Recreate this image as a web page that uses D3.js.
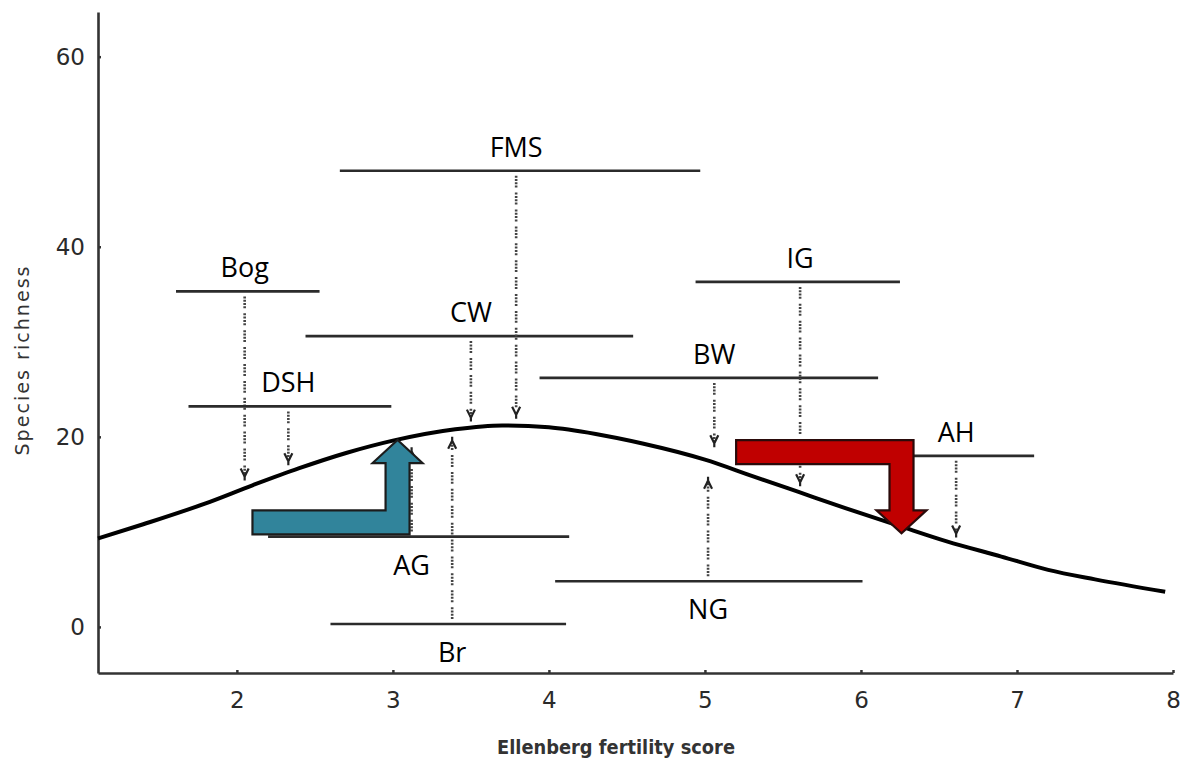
<!DOCTYPE html>
<html>
<head>
<meta charset="utf-8">
<script src="https://cdn.jsdelivr.net/npm/d3@7"></script>
<style>
  html, body { margin: 0; padding: 0; background: #fff; }
  svg { display: block; }
</style>
</head>
<body>
<svg id="chart" width="1181" height="758"></svg>
<script>
// ---------------- data ----------------
const xTicks = [2, 3, 4, 5, 6, 7, 8];
const yTicks = [0, 20, 40, 60];
const xTitle = "Ellenberg fertility score";
const yTitle = "Species richness";

// fitted species-richness curve
const curveX = [1.11, 1.4, 1.8, 2.1, 2.4, 2.7, 3.0, 3.4, 3.7, 4.0, 4.3, 4.6, 5.0, 5.3, 5.6, 5.9, 6.25, 6.55, 6.9, 7.2, 7.5, 7.95];
const curveY = [9.3, 10.8, 13.0, 14.9, 16.7, 18.3, 19.6, 20.8, 21.2, 21.0, 20.3, 19.3, 17.6, 15.9, 14.2, 12.5, 10.6, 9.0, 7.4, 6.0, 5.0, 3.7];

// habitats: fertility range, mean richness level, mean fertility, arrow end on curve
const habitats  = ["Bog", "DSH", "CW", "FMS", "BW", "IG", "AH", "AG", "Br", "NG"];
const rangeLow  = [1.61, 1.69, 2.44, 2.66, 3.94, 4.94, 6.11, 2.20, 2.60, 4.04];
const rangeHigh = [2.53, 2.99, 4.54, 4.97, 6.11, 6.25, 7.11, 4.13, 4.11, 6.01];
const levelY    = [35.3, 23.2, 30.6, 48.0, 26.2, 36.3, 18.0, 9.5, 0.3, 4.8];
const meanX     = [2.05, 2.33, 3.50, 3.79, 5.06, 5.61, 6.61, 3.12, 3.38, 5.02];
const arrowEndY = [15.4, 17.0, 21.6, 21.9, 18.9, 14.8, 9.4, 18.9, 20.0, 15.8];

// block arrows (data coordinates): horizontal start, bend/shaft x, tip level
const blueArrowStart = [2.10, 11.0];
const blueArrowTip   = [3.03, 19.66];
const redArrowStart  = [5.20, 18.4];
const redArrowTip    = [6.26, 9.85];

// ---------------- layout ----------------
const svg = d3.select("#chart");
const x = d3.scaleLinear().domain([1.11, 8]).range([98, 1173]);
const y = d3.scaleLinear().domain([-4.85, 64.7]).range([673, 12]);

const axisColor = "#333";
const tickFont = "DejaVu Sans, Verdana, sans-serif";

// axes
const gx = svg.append("g").attr("transform", `translate(0,${y.range()[0]})`)
  .call(d3.axisBottom(x).tickValues(xTicks).tickSize(-3).tickSizeOuter(0).tickPadding(19).tickFormat(d3.format("d")));
const gy = svg.append("g").attr("transform", `translate(${x.range()[0]},0)`)
  .call(d3.axisLeft(y).tickValues(yTicks).tickSize(-3).tickSizeOuter(0).tickPadding(13).tickFormat(d3.format("d")));
[gx, gy].forEach(g => {
  g.select(".domain").attr("stroke", axisColor).attr("stroke-width", 2.6);
  g.selectAll(".tick line").attr("stroke", axisColor).attr("stroke-width", 2.5);
  g.selectAll(".tick text").attr("fill", "#2a2a2a").style("font-family", tickFont).style("font-size", "23px");
});

// axis titles
svg.append("text")
  .attr("x", 616).attr("y", 754)
  .attr("text-anchor", "middle")
  .attr("textLength", 238).attr("lengthAdjust", "spacingAndGlyphs")
  .style("font-family", tickFont).style("font-size", "19px").style("font-weight", "bold")
  .attr("fill", "#333")
  .text(xTitle);
svg.append("text")
  .attr("transform", "translate(29,361) rotate(-90)")
  .attr("text-anchor", "middle")
  .attr("textLength", 189).attr("lengthAdjust", "spacing")
  .style("font-family", tickFont).style("font-size", "19px")
  .attr("fill", "#333")
  .text(yTitle);

// curve
const curvePts = curveX.map((v, i) => [v, curveY[i]]);
svg.append("path")
  .datum(curvePts)
  .attr("fill", "none")
  .attr("stroke", "#000")
  .attr("stroke-width", 4)
  .attr("stroke-linejoin", "round")
  .attr("d", d3.line().x(d => x(d[0])).y(d => y(d[1])).curve(d3.curveMonotoneX));

// habitat ranges, dotted arrows and labels
const rows = habitats.map((h, i) => ({
  name: h, lo: rangeLow[i], hi: rangeHigh[i], lvl: levelY[i], mx: meanX[i], end: arrowEndY[i]
}));
const gH = svg.append("g");
rows.forEach(r => {
  const up = r.end > r.lvl; // arrow pointing up (line below curve)
  const dir = up ? -1 : 1;  // screen direction of the arrow
  const x0 = x(r.mx);
  const yl = y(r.lvl);
  const ye = y(r.end);
  // range line
  gH.append("line")
    .attr("x1", x(r.lo)).attr("x2", x(r.hi))
    .attr("y1", yl).attr("y2", yl)
    .attr("stroke", "#2b2b2b").attr("stroke-width", 2.6);
  // dotted connector
  gH.append("line")
    .attr("x1", x0).attr("x2", x0)
    .attr("y1", yl + dir * 5).attr("y2", ye - dir * 4)
    .attr("stroke", "#444").attr("stroke-width", 2.6)
    .attr("stroke-dasharray", "2,1.3,2,1.3,2,1.3,2,5");
  // arrow head (chevron + small stem)
  const hy = ye - dir * 4;
  gH.append("path")
    .attr("d", `M${x0 - 4},${hy - dir * 8}L${x0},${hy}L${x0 + 4},${hy - dir * 8}M${x0},${hy}L${x0},${ye}`)
    .attr("fill", "none").attr("stroke", "#222").attr("stroke-width", 2.2);
  // label
  gH.append("text")
    .attr("x", x0)
    .attr("y", up ? yl + 38 : yl - 14)
    .attr("text-anchor", "middle")
    .style("font-family", "'Open Sans', 'Noto Sans', sans-serif")
    .style("font-size", "27px")
    .attr("fill", "#000")
    .text(r.name);
});

// block arrows
function blockArrow(start, tip, up, fill, stroke) {
  const t = 24, hw = 50, hl = 23;
  const xL = x(start[0]), yc = y(start[1]);
  const xs = x(tip[0]), yt = y(tip[1]);
  let pts;
  if (up) {
    pts = [[xL, yc - t / 2], [xs - t / 2, yc - t / 2], [xs - t / 2, yt + hl], [xs - hw / 2, yt + hl], [xs, yt],
           [xs + hw / 2, yt + hl], [xs + t / 2, yt + hl], [xs + t / 2, yc + t / 2], [xL, yc + t / 2]];
  } else {
    pts = [[xL, yc - t / 2], [xs + t / 2, yc - t / 2], [xs + t / 2, yt - hl], [xs + hw / 2, yt - hl], [xs, yt],
           [xs - hw / 2, yt - hl], [xs - t / 2, yt - hl], [xs - t / 2, yc + t / 2], [xL, yc + t / 2]];
  }
  svg.append("polygon")
    .attr("points", pts.map(p => p.join(",")).join(" "))
    .attr("fill", fill).attr("stroke", stroke).attr("stroke-width", 2.2)
    .attr("stroke-linejoin", "miter");
}
blockArrow(blueArrowStart, blueArrowTip, true, "#31849B", "#1c1c1c");
blockArrow(redArrowStart, redArrowTip, false, "#C00000", "#2a0a0a");
</script>
</body>
</html>
